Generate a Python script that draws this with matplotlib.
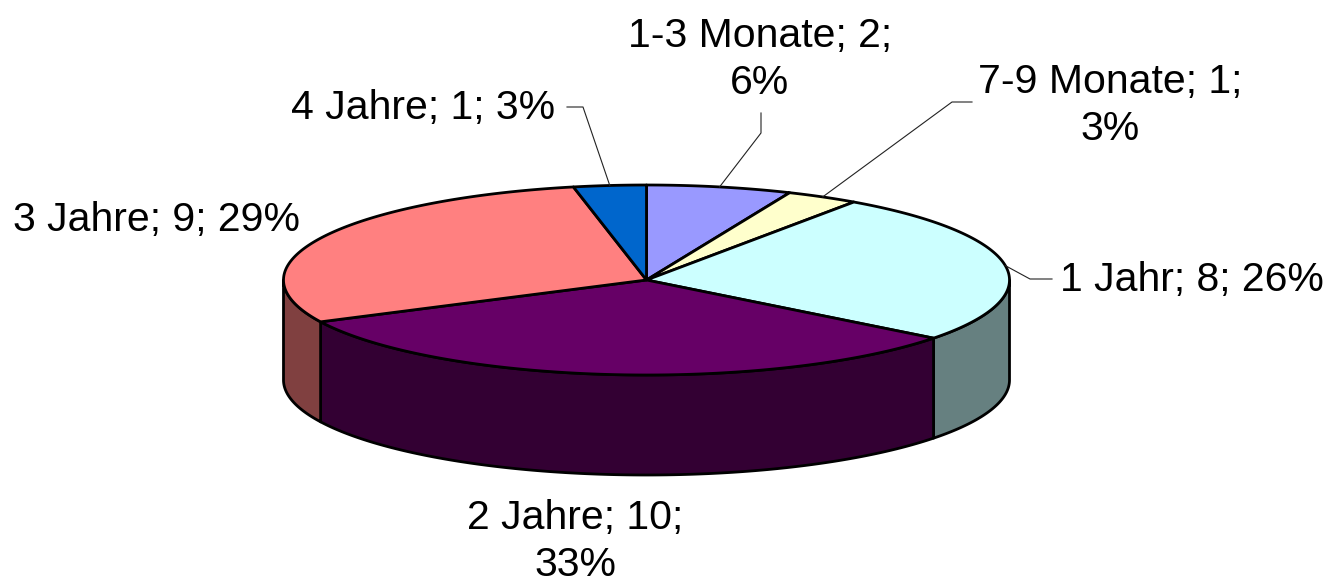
import numpy as np
import matplotlib
matplotlib.use('Agg')
import matplotlib.pyplot as plt
from matplotlib.patches import Polygon

# data, clockwise from 12 o'clock
names = ['1-3 Monate', '7-9 Monate', '1 Jahr', '2 Jahre', '3 Jahre', '4 Jahre']
counts = [2, 1, 8, 10, 9, 1]
pcts = [6, 3, 26, 33, 29, 3]   # as printed by the original (rounded to 100)
top_colors = ['#9999FF', '#FFFFCC', '#CCFFFF', '#660066', '#FF8080', '#0066CC']
side_colors = ['#4D4D80', '#808066', '#668080', '#330033', '#804040', '#003366']

# pie geometry in pixels (image coords, y down)
cx, cy = 646.5, 280
rx, ry = 363, 95
depth = 100

# label layout: text position, alignment, line break after 2nd field?, leader elbow points
label_pos = [(760, 60), (1110, 106), (1060, 280), (575, 542), (300, 220), (555, 108)]
label_ha = ['center', 'center', 'left', 'center', 'right', 'right']
label_wrap = [True, True, False, True, False, False]
leaders = [
    [(761, 113), (761, 133)],
    [(972, 102), (952, 102)],
    [(1052, 279), (1030, 279)],
    None,
    None,
    [(567, 107), (583, 107)],
]


def rim(phi, dy=0.0):
    phi = np.radians(phi)
    return cx + rx * np.sin(phi), cy - ry * np.cos(phi) + dy


fig = plt.figure(figsize=(13.32, 5.83), dpi=100)
ax = fig.add_axes([0, 0, 1, 1])
ax.set_xlim(0, 1332)
ax.set_ylim(583, 0)
ax.axis('off')

total = float(sum(counts))
bounds = np.concatenate([[0], np.cumsum(counts)]) / total * 360.0

# side walls (front half only: 90..270 deg)
for i in range(len(counts)):
    a0, a1 = max(bounds[i], 90), min(bounds[i + 1], 270)
    if a1 <= a0:
        continue
    phi = np.linspace(a0, a1, 200)
    xt, yt = rim(phi)
    xb, yb = rim(phi[::-1], depth)
    pts = np.column_stack([np.concatenate([xt, xb]), np.concatenate([yt, yb])])
    ax.add_patch(Polygon(pts, closed=True, facecolor=side_colors[i],
                         edgecolor='black', lw=2.0, joinstyle='round', zorder=1))

# top faces
for i in range(len(counts)):
    phi = np.linspace(bounds[i], bounds[i + 1], 300)
    xt, yt = rim(phi)
    pts = np.column_stack([np.concatenate([[cx], xt]), np.concatenate([[cy], yt])])
    ax.add_patch(Polygon(pts, closed=True, facecolor=top_colors[i],
                         edgecolor='black', lw=2.0, joinstyle='round', zorder=2))

# labels
for i in range(len(counts)):
    sep = ';\n' if label_wrap[i] else '; '
    txt = f'{names[i]}; {counts[i]}{sep}{pcts[i]}%'
    ax.text(label_pos[i][0], label_pos[i][1], txt, ha=label_ha[i], va='center',
            fontsize=29.5, family='Liberation Sans', linespacing=1.3, zorder=5)
    if leaders[i] is not None:
        mid = (bounds[i] + bounds[i + 1]) / 2
        ax_, ay_ = rim(mid)
        xs = [p[0] for p in leaders[i]] + [ax_]
        ys = [p[1] for p in leaders[i]] + [ay_]
        ax.plot(xs, ys, color='#222222', lw=0.8, zorder=4)

fig.savefig('out.png', dpi=100)
